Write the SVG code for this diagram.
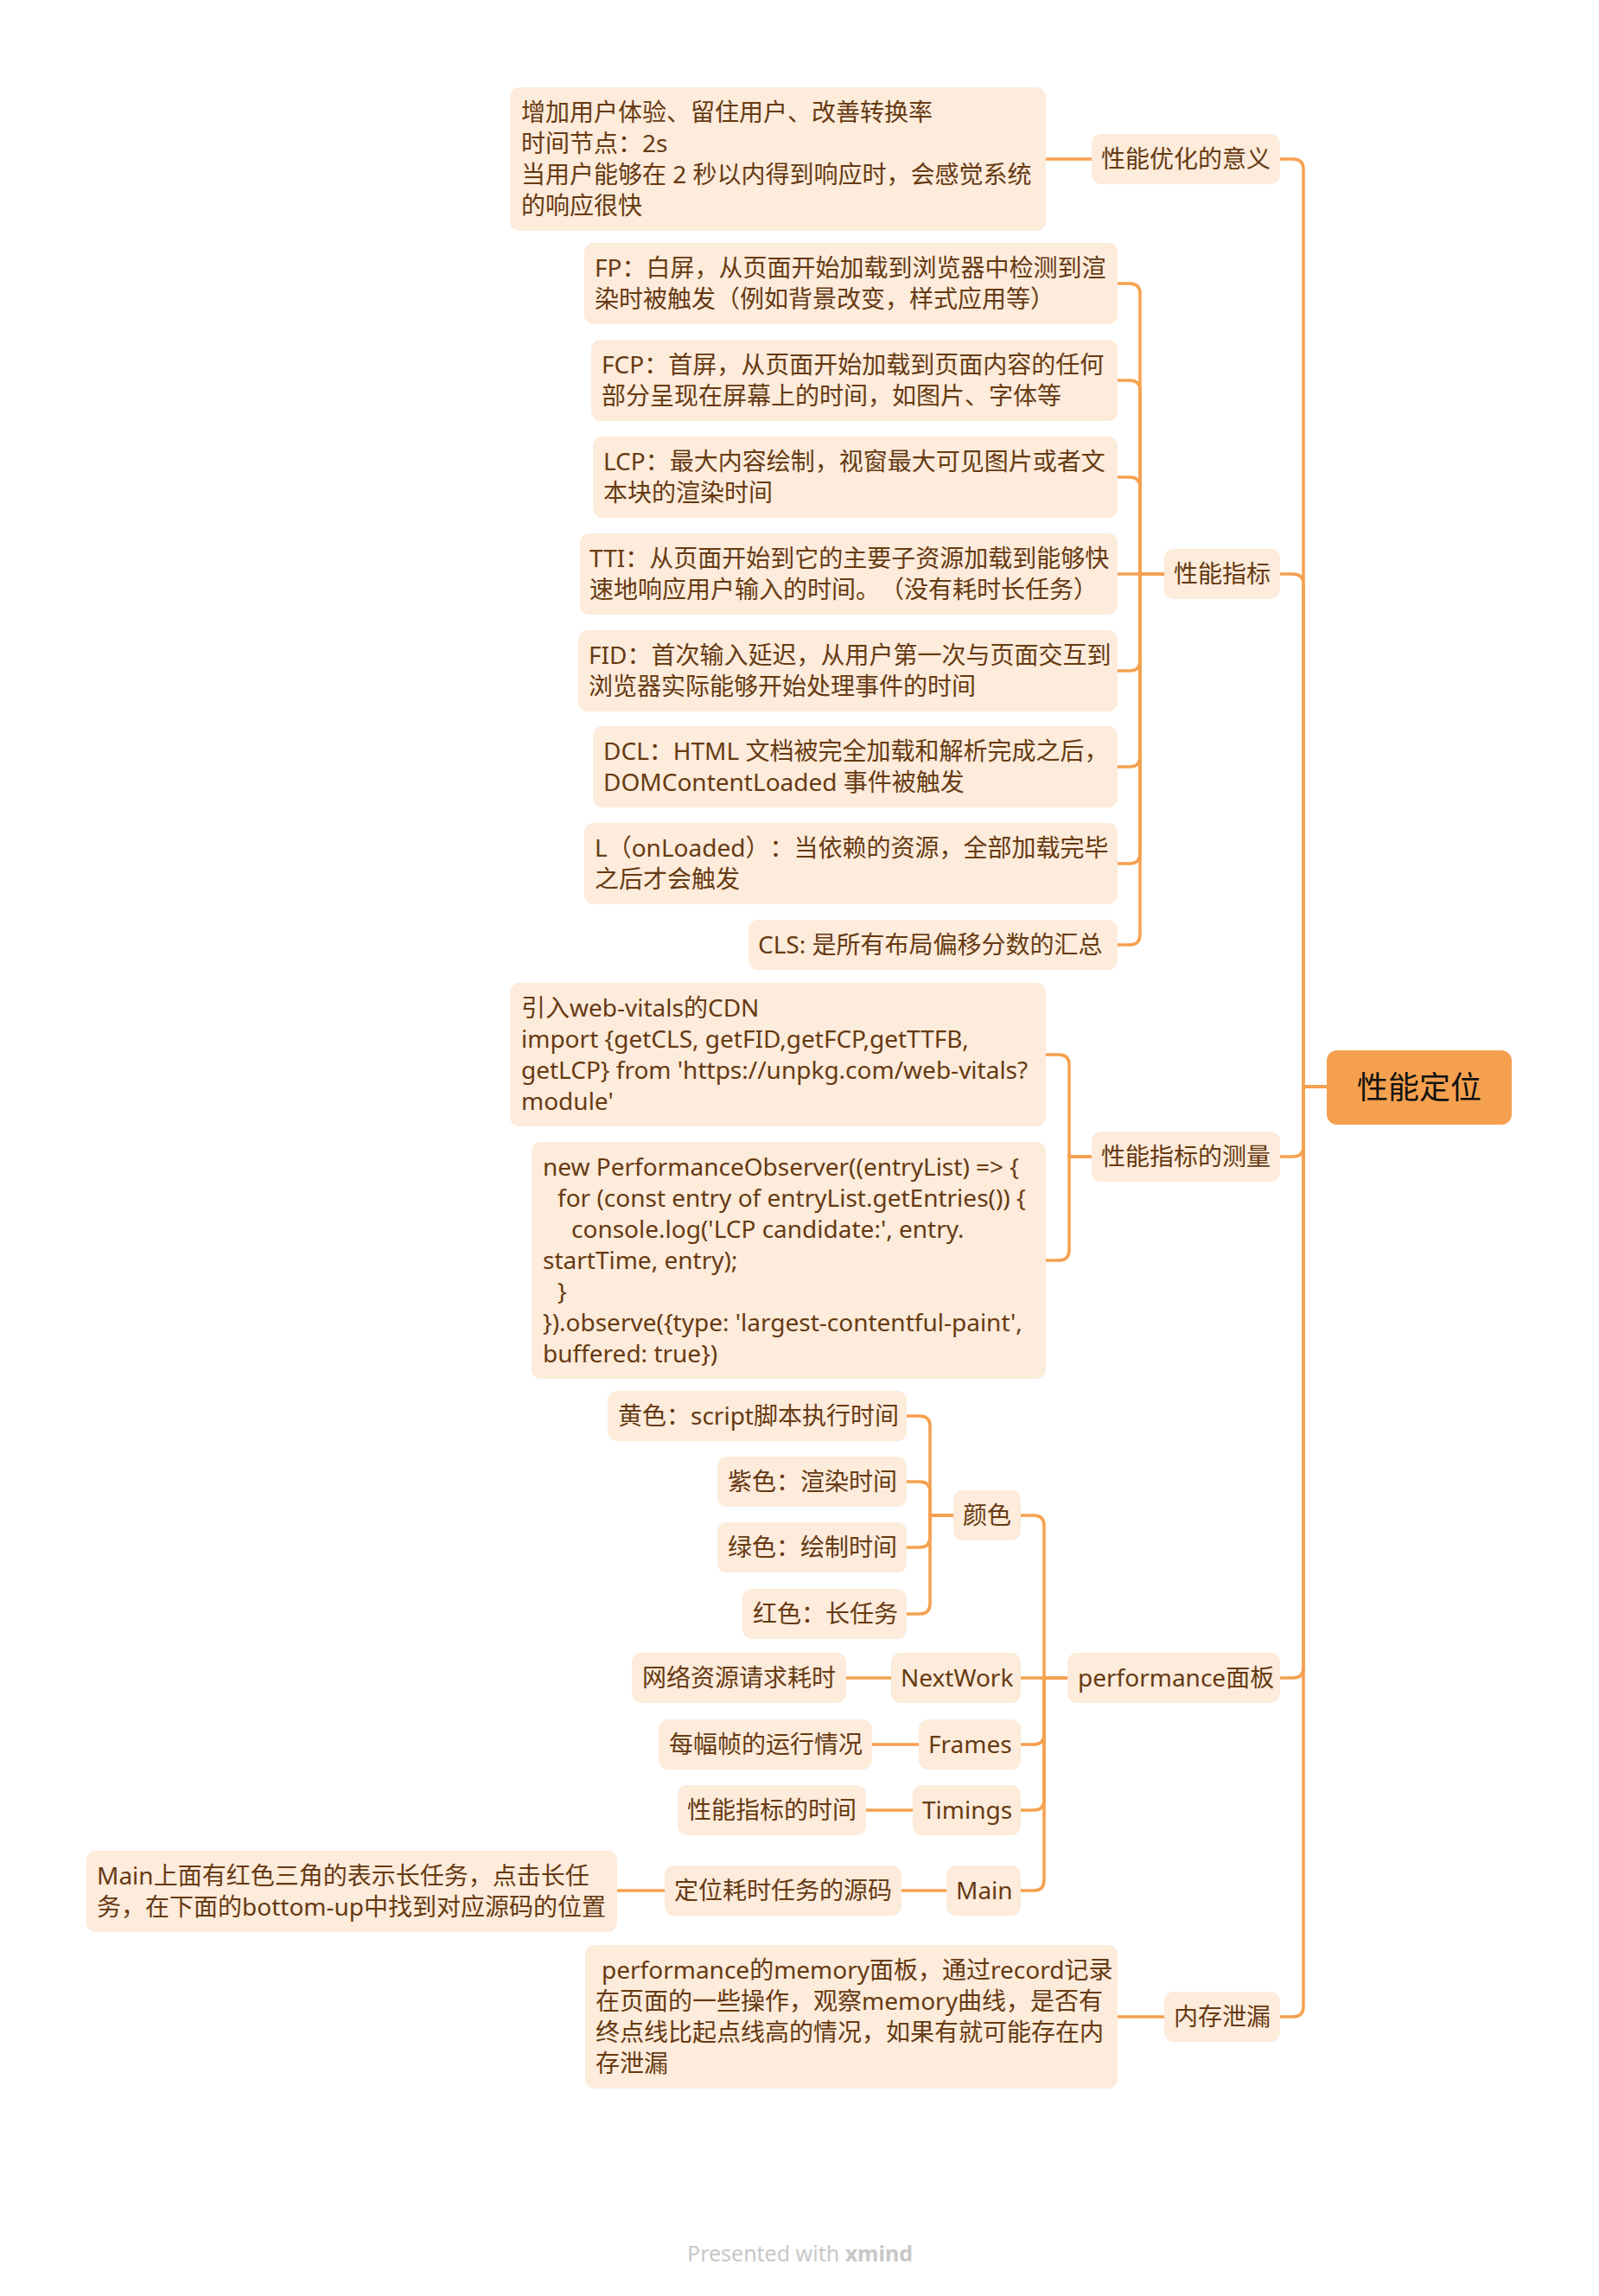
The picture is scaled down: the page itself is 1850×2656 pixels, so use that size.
<svg xmlns="http://www.w3.org/2000/svg" width="1850" height="2656" viewBox="0 0 1850 2656">
<style>
.bg{fill:#ffffff}
.n rect{fill:#FDEBDB}
.n text{font-family:"Noto Sans","Noto Sans CJK SC",sans-serif;font-size:28px;fill:#663A12;text-spacing-trim:space-all}
.root rect{fill:#F5A04E}
.root text{font-family:"Noto Sans","Noto Sans CJK SC",sans-serif;font-size:36px;fill:#111111}
#connectors path{fill:none;stroke:#F5A04E;stroke-width:3.5;stroke-linecap:round}
.foot{font-family:"Noto Sans",sans-serif;font-size:25px;fill:#C8C8C8}
</style>
<rect class="bg" x="0" y="0" width="1850" height="2656"/>
<g id="connectors">
<path d="M1535,1257 H1508 V196 Q1508,184 1496,184 H1481"/>
<path d="M1535,1257 H1508 V676 Q1508,664 1496,664 H1481"/>
<path d="M1535,1257 H1508 V1326 Q1508,1338 1496,1338 H1481"/>
<path d="M1535,1257 H1508 V1929 Q1508,1941 1496,1941 H1481"/>
<path d="M1535,1257 H1508 V2321 Q1508,2333 1496,2333 H1481"/>
<path d="M1263,184 H1210"/>
<path d="M1347,664 H1319 V340 Q1319,328 1307,328 H1293"/>
<path d="M1347,664 H1319 V452 Q1319,440 1307,440 H1293"/>
<path d="M1347,664 H1319 V564 Q1319,552 1307,552 H1293"/>
<path d="M1347,664 H1293"/>
<path d="M1347,664 H1319 V764 Q1319,776 1307,776 H1293"/>
<path d="M1347,664 H1319 V875 Q1319,887 1307,887 H1293"/>
<path d="M1347,664 H1319 V987 Q1319,999 1307,999 H1293"/>
<path d="M1347,664 H1319 V1081 Q1319,1093 1307,1093 H1293"/>
<path d="M1263,1338 H1237 V1232 Q1237,1220 1225,1220 H1210"/>
<path d="M1263,1338 H1237 V1446 Q1237,1458 1225,1458 H1210"/>
<path d="M1235,1941 H1208 V1765 Q1208,1753 1196,1753 H1181"/>
<path d="M1235,1941 H1181"/>
<path d="M1235,1941 H1208 V2006 Q1208,2018 1196,2018 H1181"/>
<path d="M1235,1941 H1208 V2082 Q1208,2094 1196,2094 H1181"/>
<path d="M1235,1941 H1208 V2175 Q1208,2187 1196,2187 H1181"/>
<path d="M1103,1753 H1076 V1650 Q1076,1638 1064,1638 H1049"/>
<path d="M1103,1753 H1076 V1726 Q1076,1714 1064,1714 H1049"/>
<path d="M1103,1753 H1076 V1778 Q1076,1790 1064,1790 H1049"/>
<path d="M1103,1753 H1076 V1855 Q1076,1867 1064,1867 H1049"/>
<path d="M1031,1941 H979"/>
<path d="M1063,2018 H1009"/>
<path d="M1056,2094 H1002"/>
<path d="M1095,2187 H1043"/>
<path d="M769,2187 H714"/>
<path d="M1347,2333 H1293"/>
</g>

<g id="root" class="root">
<rect x="1535" y="1215" width="214" height="86" rx="12"/>
<text x="1642" y="1271" text-anchor="middle">性能定位</text>
</g>

<g id="n-yiyi" class="n">
<rect x="1263" y="155" width="218" height="58" rx="11"/>
<text x="1274" y="194">性能优化的意义</text>
</g>
<g id="n-yiyi-detail" class="n">
<rect x="590" y="101" width="620" height="166" rx="11"/>
<text x="603" y="140">增加用户体验、留住用户、改善转换率</text>
<text x="603" y="176">时间节点：2s</text>
<text x="603" y="212">当用户能够在 2 秒以内得到响应时，会感觉系统</text>
<text x="603" y="248">的响应很快</text>
</g>

<g id="n-zhibiao" class="n">
<rect x="1347" y="635" width="134" height="58" rx="11"/>
<text x="1358" y="674">性能指标</text>
</g>
<g id="n-fp" class="n">
<rect x="676" y="281" width="617" height="94" rx="11"/>
<text x="688" y="320">FP：白屏，从页面开始加载到浏览器中检测到渲</text>
<text x="688" y="356">染时被触发（例如背景改变，样式应用等）</text>
</g>
<g id="n-fcp" class="n">
<rect x="684" y="393" width="609" height="94" rx="11"/>
<text x="696" y="432">FCP：首屏，从页面开始加载到页面内容的任何</text>
<text x="696" y="468">部分呈现在屏幕上的时间，如图片、字体等</text>
</g>
<g id="n-lcp" class="n">
<rect x="686" y="505" width="607" height="94" rx="11"/>
<text x="698" y="544">LCP：最大内容绘制，视窗最大可见图片或者文</text>
<text x="698" y="580">本块的渲染时间</text>
</g>
<g id="n-tti" class="n">
<rect x="671" y="617" width="622" height="94" rx="11"/>
<text x="682" y="656">TTI：从页面开始到它的主要子资源加载到能够快</text>
<text x="682" y="692">速地响应用户输入的时间。（没有耗时长任务）</text>
</g>
<g id="n-fid" class="n">
<rect x="669" y="729" width="624" height="94" rx="11"/>
<text x="681" y="768">FID：首次输入延迟，从用户第一次与页面交互到</text>
<text x="681" y="804">浏览器实际能够开始处理事件的时间</text>
</g>
<g id="n-dcl" class="n">
<rect x="686" y="840" width="607" height="94" rx="11"/>
<text x="698" y="879">DCL：HTML 文档被完全加载和解析完成之后，</text>
<text x="698" y="915">DOMContentLoaded 事件被触发</text>
</g>
<g id="n-l" class="n">
<rect x="676" y="952" width="617" height="94" rx="11"/>
<text x="688" y="991">L（onLoaded）：当依赖的资源，全部加载完毕</text>
<text x="688" y="1027">之后才会触发</text>
</g>
<g id="n-cls" class="n">
<rect x="866" y="1064" width="427" height="58" rx="11"/>
<text x="877" y="1103">CLS: 是所有布局偏移分数的汇总</text>
</g>

<g id="n-celiang" class="n">
<rect x="1263" y="1309" width="218" height="58" rx="11"/>
<text x="1274" y="1348">性能指标的测量</text>
</g>
<g id="n-cdn" class="n">
<rect x="590" y="1137" width="620" height="166" rx="11"/>
<text x="603" y="1176">引入web-vitals的CDN</text>
<text x="603" y="1212">import {getCLS, getFID,getFCP,getTTFB,</text>
<text x="603" y="1248">getLCP} from 'https://unpkg.com/web-vitals?</text>
<text x="603" y="1284">module'</text>
</g>
<g id="n-observer" class="n">
<rect x="615" y="1321" width="595" height="274" rx="11"/>
<text x="628" y="1360">new PerformanceObserver((entryList) =&gt; {</text>
<text x="645" y="1396">for (const entry of entryList.getEntries()) {</text>
<text x="661" y="1432">console.log('LCP candidate:', entry.</text>
<text x="628" y="1468">startTime, entry);</text>
<text x="645" y="1504">}</text>
<text x="628" y="1540">}).observe({type: 'largest-contentful-paint',</text>
<text x="628" y="1576">buffered: true})</text>
</g>

<g id="n-perf" class="n">
<rect x="1235" y="1912" width="246" height="58" rx="11"/>
<text x="1247" y="1951">performance面板</text>
</g>
<g id="n-color" class="n">
<rect x="1103" y="1724" width="78" height="58" rx="11"/>
<text x="1114" y="1763">颜色</text>
</g>
<g id="n-yellow" class="n">
<rect x="703" y="1609" width="346" height="58" rx="11"/>
<text x="715" y="1648">黄色：script脚本执行时间</text>
</g>
<g id="n-purple" class="n">
<rect x="830" y="1685" width="219" height="58" rx="11"/>
<text x="842" y="1724">紫色：渲染时间</text>
</g>
<g id="n-green" class="n">
<rect x="830" y="1761" width="219" height="58" rx="11"/>
<text x="842" y="1800">绿色：绘制时间</text>
</g>
<g id="n-red" class="n">
<rect x="859" y="1838" width="190" height="58" rx="11"/>
<text x="871" y="1877">红色：长任务</text>
</g>
<g id="n-network" class="n">
<rect x="1031" y="1912" width="150" height="58" rx="11"/>
<text x="1042" y="1951">NextWork</text>
</g>
<g id="n-network-detail" class="n">
<rect x="731" y="1912" width="248" height="58" rx="11"/>
<text x="743" y="1951">网络资源请求耗时</text>
</g>
<g id="n-frames" class="n">
<rect x="1063" y="1989" width="118" height="58" rx="11"/>
<text x="1074" y="2028">Frames</text>
</g>
<g id="n-frames-detail" class="n">
<rect x="762" y="1989" width="247" height="58" rx="11"/>
<text x="774" y="2028">每幅帧的运行情况</text>
</g>
<g id="n-timings" class="n">
<rect x="1056" y="2065" width="125" height="58" rx="11"/>
<text x="1067" y="2104">Timings</text>
</g>
<g id="n-timings-detail" class="n">
<rect x="784" y="2065" width="218" height="58" rx="11"/>
<text x="795" y="2104">性能指标的时间</text>
</g>
<g id="n-main" class="n">
<rect x="1095" y="2158" width="86" height="58" rx="11"/>
<text x="1106" y="2197">Main</text>
</g>
<g id="n-main-source" class="n">
<rect x="769" y="2158" width="274" height="58" rx="11"/>
<text x="780" y="2197">定位耗时任务的源码</text>
</g>
<g id="n-main-detail" class="n">
<rect x="100" y="2141" width="614" height="94" rx="11"/>
<text x="112" y="2180">Main上面有红色三角的表示长任务，点击长任</text>
<text x="112" y="2216">务，在下面的bottom-up中找到对应源码的位置</text>
</g>

<g id="n-leak" class="n">
<rect x="1347" y="2304" width="134" height="58" rx="11"/>
<text x="1358" y="2343">内存泄漏</text>
</g>
<g id="n-leak-detail" class="n">
<rect x="677" y="2250" width="616" height="166" rx="11"/>
<text x="696" y="2289">performance的memory面板，通过record记录</text>
<text x="689" y="2325">在页面的一些操作，观察memory曲线，是否有</text>
<text x="689" y="2361">终点线比起点线高的情况，如果有就可能存在内</text>
<text x="689" y="2397">存泄漏</text>
</g>

<text class="foot" x="795" y="2616">Presented with <tspan font-weight="bold">xmind</tspan></text>
</svg>
